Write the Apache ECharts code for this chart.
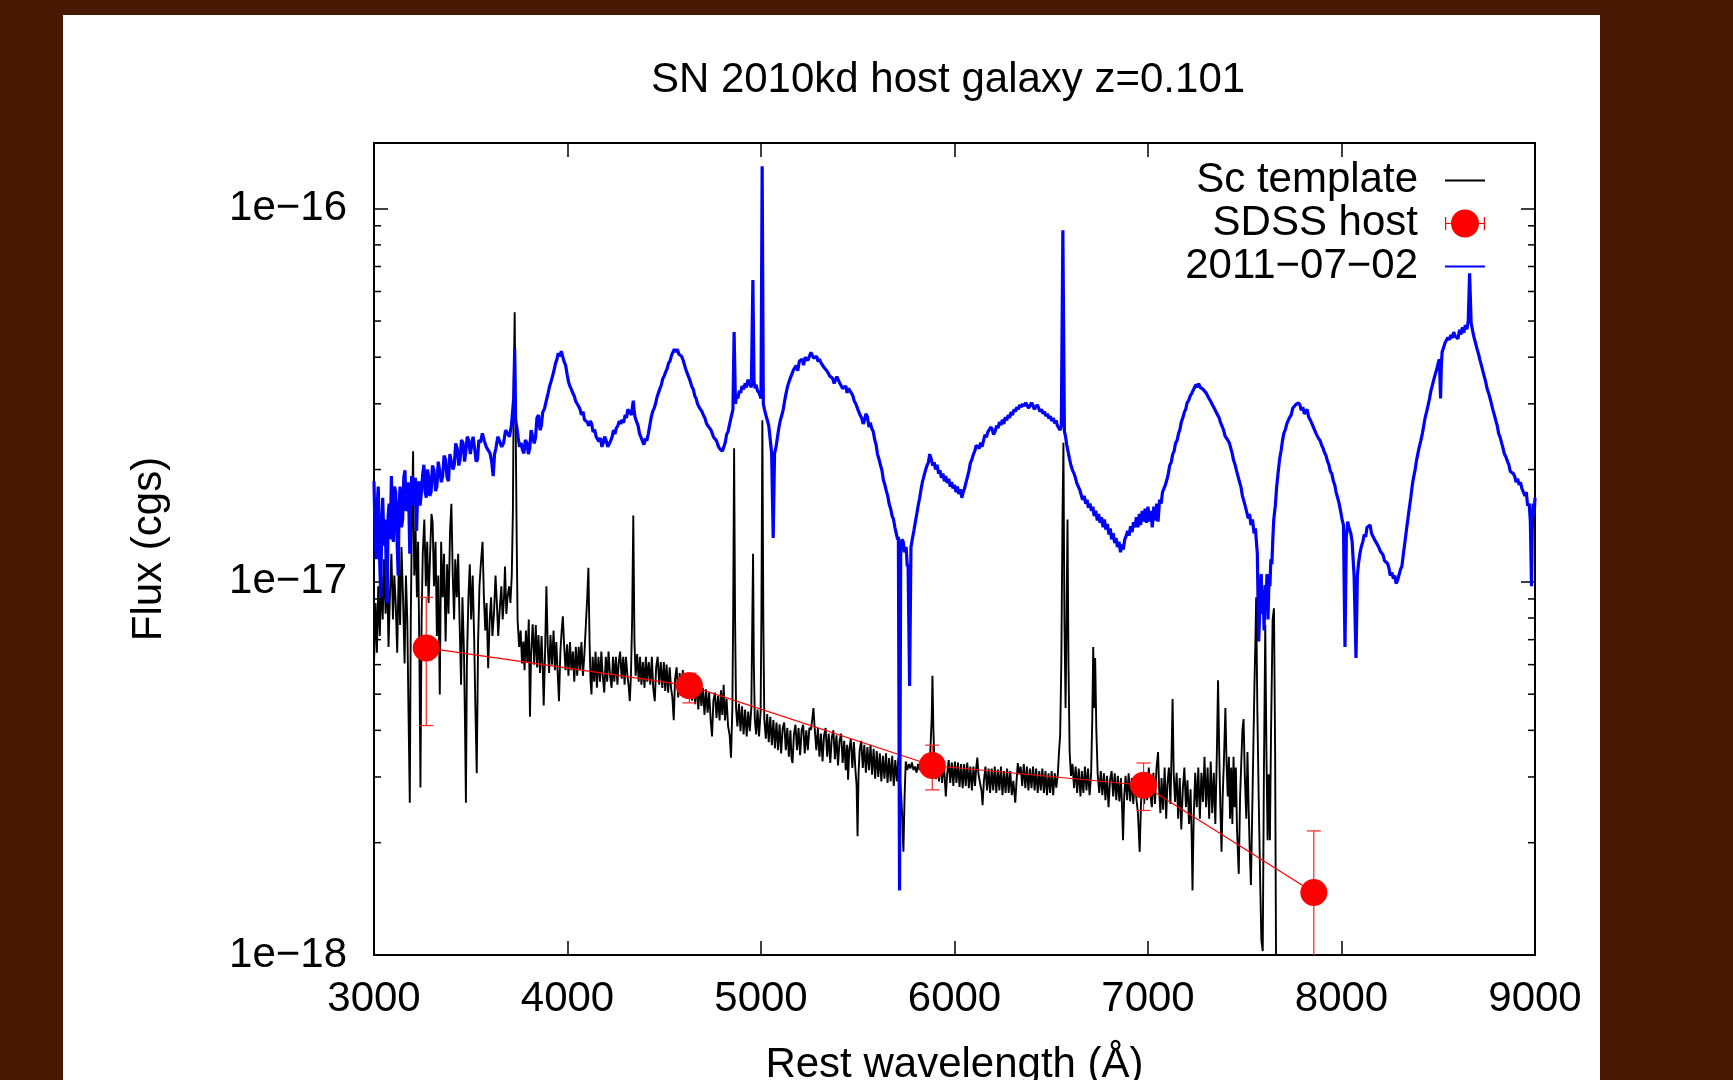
<!DOCTYPE html>
<html>
<head>
<meta charset="utf-8">
<script src="https://cdn.jsdelivr.net/npm/echarts@6/dist/echarts.min.js"></script>
<style>
html,body{margin:0;padding:0;background:#4a1903;width:1733px;height:1080px;overflow:hidden}
#panel{position:absolute;left:63px;top:15px;width:1537px;height:1065px;background:#ffffff}
#chart{position:absolute;left:0;top:0;width:1733px;height:1080px}
</style>
</head>
<body>
<div id="panel"></div>
<div id="chart"></div>
<script>
// ---------------- data (flux in units of 1e-17 erg/s/cm^2/A) ----------------
const titleText = 'SN 2010kd host galaxy z=0.101';
const xTicks = [3000, 4000, 5000, 6000, 7000, 8000, 9000];
const yTickValues = [1e-18, 1e-17, 1e-16];
const yTickLabels = ['1e\u221218', '1e\u221217', '1e\u221216'];
const yRange = [1e-18, 1.5e-16];

// Sc template [wavelength, flux]
const templateSpectrum = [[3000,0.604],[3008,0.878],[3015,0.646],[3022,0.973],[3030,0.716],[3038,1.04],[3045,0.793],[3052,1.15],[3060,0.821],[3068,1.08],[3075,0.669],[3082,0.909],[3090,1.19],[3098,0.793],[3105,1.04],[3112,0.878],[3120,0.646],[3128,1.115],[3135,0.766],[3142,1.24],[3150,0.909],[3158,0.604],[3165,1.04],[3172,0.793],[3178,0.459],[3185,0.256],[3190,0.793],[3196,1.47],[3202,2.24],[3208,1.04],[3215,1.37],[3222,0.909],[3228,1.28],[3235,0.604],[3240,0.281],[3246,0.793],[3252,1.19],[3260,1.47],[3268,0.973],[3275,1.28],[3282,0.878],[3290,1.19],[3297,1.52],[3303,1.445],[3310,0.973],[3318,1.28],[3325,0.716],[3332,1.04],[3340,0.499],[3347,1.28],[3355,0.909],[3362,1.19],[3370,0.692],[3378,1.115],[3385,0.821],[3393,1.37],[3400,1.62],[3407,1.04],[3414,0.793],[3420,1.15],[3428,0.909],[3435,1.19],[3442,0.793],[3450,0.530],[3457,0.909],[3465,0.646],[3470,0.429],[3475,0.256],[3480,0.604],[3488,0.909],[3495,1.115],[3502,0.793],[3510,1.04],[3518,0.692],[3524,0.459],[3531,0.307],[3538,0.692],[3545,0.973],[3552,1.115],[3561,1.28],[3568,0.909],[3575,0.741],[3582,0.878],[3590,0.587],[3598,0.793],[3605,0.909],[3612,0.716],[3620,0.821],[3628,1.04],[3635,0.878],[3642,0.716],[3650,0.849],[3658,0.973],[3665,0.793],[3672,0.909],[3677,1.10],[3684,0.821],[3690,0.909],[3698,0.973],[3705,0.878],[3712,1.04],[3718,1.57],[3722,3.32],[3727,5.28],[3732,2.71],[3737,1.37],[3742,0.793],[3750,0.669],[3758,0.741],[3765,0.604],[3772,0.692],[3778,0.580],[3785,0.741],[3792,0.610],[3800,0.793],[3806,0.435],[3812,0.646],[3820,0.770],[3828,0.600],[3836,0.766],[3843,0.590],[3850,0.720],[3858,0.570],[3866,0.716],[3872,0.590],[3877,0.466],[3884,0.646],[3891,0.973],[3898,0.669],[3905,0.570],[3912,0.720],[3920,0.600],[3928,0.740],[3935,0.580],[3942,0.690],[3950,0.560],[3956,0.479],[3963,0.646],[3970,0.741],[3976,0.809],[3983,0.669],[3990,0.580],[3998,0.680],[4005,0.560],[4013,0.690],[4020,0.580],[4028,0.650],[4035,0.540],[4043,0.670],[4050,0.560],[4058,0.670],[4065,0.580],[4072,0.690],[4080,0.560],[4088,0.650],[4095,0.646],[4102,0.909],[4108,1.09],[4114,0.692],[4119,0.545],[4124,0.499],[4130,0.630],[4138,0.540],[4145,0.650],[4152,0.520],[4160,0.630],[4168,0.540],[4175,0.650],[4182,0.560],[4190,0.505],[4198,0.630],[4205,0.540],[4212,0.650],[4220,0.560],[4228,0.520],[4235,0.630],[4242,0.540],[4250,0.630],[4258,0.530],[4265,0.610],[4272,0.650],[4280,0.550],[4288,0.630],[4295,0.530],[4302,0.630],[4310,0.560],[4316,0.526],[4322,0.479],[4328,0.564],[4334,0.793],[4340,1.505],[4346,0.692],[4352,0.560],[4360,0.640],[4368,0.540],[4375,0.630],[4382,0.530],[4390,0.610],[4398,0.520],[4405,0.630],[4412,0.540],[4420,0.610],[4428,0.530],[4436,0.630],[4443,0.520],[4451,0.479],[4458,0.590],[4466,0.630],[4474,0.530],[4482,0.610],[4490,0.520],[4498,0.610],[4505,0.510],[4512,0.600],[4520,0.505],[4528,0.590],[4535,0.520],[4542,0.490],[4549,0.426],[4556,0.550],[4564,0.590],[4572,0.490],[4580,0.570],[4588,0.495],[4596,0.580],[4604,0.490],[4612,0.560],[4620,0.520],[4628,0.490],[4636,0.550],[4644,0.480],[4652,0.550],[4660,0.470],[4668,0.540],[4676,0.455],[4684,0.530],[4692,0.465],[4700,0.520],[4708,0.440],[4716,0.515],[4724,0.446],[4732,0.505],[4740,0.425],[4747,0.385],[4754,0.480],[4762,0.505],[4770,0.432],[4778,0.495],[4786,0.425],[4793,0.512],[4800,0.440],[4807,0.530],[4814,0.425],[4822,0.486],[4830,0.410],[4838,0.388],[4845,0.338],[4852,0.459],[4856,0.793],[4861,2.28],[4866,0.793],[4871,0.459],[4878,0.410],[4886,0.472],[4894,0.398],[4902,0.464],[4910,0.390],[4918,0.455],[4926,0.385],[4934,0.449],[4942,0.398],[4950,0.459],[4955,0.793],[4959,1.19],[4963,0.604],[4968,0.429],[4975,0.390],[4982,0.455],[4990,0.385],[4998,0.449],[5002,0.793],[5007,2.71],[5012,0.793],[5017,0.429],[5025,0.380],[5032,0.442],[5040,0.372],[5048,0.435],[5056,0.365],[5064,0.426],[5072,0.358],[5080,0.420],[5088,0.354],[5096,0.415],[5104,0.347],[5112,0.406],[5120,0.420],[5128,0.354],[5136,0.406],[5144,0.340],[5152,0.400],[5158,0.335],[5163,0.327],[5170,0.390],[5178,0.414],[5186,0.354],[5194,0.406],[5202,0.343],[5210,0.400],[5218,0.414],[5226,0.347],[5234,0.400],[5242,0.354],[5250,0.406],[5258,0.401],[5265,0.429],[5271,0.459],[5278,0.401],[5286,0.354],[5294,0.406],[5302,0.340],[5310,0.392],[5318,0.330],[5326,0.388],[5334,0.406],[5342,0.340],[5350,0.392],[5358,0.327],[5366,0.384],[5374,0.400],[5382,0.335],[5390,0.388],[5398,0.322],[5406,0.375],[5414,0.392],[5422,0.327],[5430,0.375],[5438,0.313],[5445,0.366],[5450,0.295],[5456,0.354],[5464,0.379],[5472,0.317],[5480,0.372],[5488,0.313],[5494,0.285],[5499,0.208],[5504,0.305],[5510,0.354],[5518,0.375],[5526,0.317],[5534,0.366],[5542,0.308],[5550,0.361],[5558,0.313],[5566,0.366],[5574,0.304],[5582,0.357],[5590,0.297],[5598,0.352],[5606,0.300],[5614,0.347],[5622,0.292],[5630,0.342],[5638,0.297],[5646,0.347],[5654,0.289],[5662,0.337],[5670,0.292],[5678,0.342],[5686,0.284],[5694,0.333],[5702,0.292],[5710,0.337],[5718,0.295],[5725,0.266],[5730,0.232],[5736,0.189],[5742,0.266],[5748,0.330],[5756,0.313],[5764,0.325],[5772,0.316],[5780,0.328],[5788,0.313],[5796,0.320],[5804,0.308],[5812,0.325],[5820,0.313],[5828,0.320],[5836,0.308],[5844,0.325],[5852,0.316],[5860,0.330],[5868,0.313],[5875,0.350],[5882,0.429],[5886,0.560],[5891,0.401],[5896,0.327],[5904,0.296],[5912,0.337],[5920,0.292],[5928,0.333],[5936,0.289],[5944,0.330],[5950,0.295],[5955,0.266],[5962,0.305],[5970,0.333],[5978,0.289],[5986,0.328],[5994,0.284],[6002,0.330],[6010,0.289],[6018,0.328],[6026,0.282],[6034,0.325],[6042,0.280],[6050,0.325],[6058,0.284],[6066,0.328],[6074,0.280],[6082,0.320],[6090,0.276],[6098,0.320],[6106,0.284],[6112,0.316],[6118,0.338],[6124,0.305],[6132,0.289],[6140,0.275],[6145,0.252],[6152,0.293],[6160,0.320],[6168,0.276],[6176,0.316],[6184,0.272],[6192,0.316],[6200,0.276],[6208,0.320],[6216,0.272],[6224,0.314],[6232,0.276],[6240,0.320],[6248,0.268],[6256,0.311],[6264,0.272],[6272,0.316],[6280,0.272],[6288,0.311],[6296,0.268],[6304,0.293],[6310,0.270],[6314,0.256],[6320,0.289],[6327,0.327],[6334,0.305],[6342,0.320],[6350,0.284],[6358,0.325],[6366,0.280],[6374,0.320],[6382,0.276],[6390,0.316],[6398,0.280],[6406,0.320],[6414,0.276],[6422,0.316],[6430,0.272],[6438,0.311],[6446,0.276],[6454,0.316],[6462,0.272],[6470,0.311],[6478,0.268],[6486,0.307],[6494,0.272],[6502,0.311],[6510,0.268],[6518,0.307],[6526,0.281],[6534,0.305],[6540,0.350],[6546,0.388],[6552,0.604],[6558,1.47],[6563,2.36],[6568,0.793],[6574,0.459],[6579,0.793],[6584,1.47],[6589,0.604],[6595,0.350],[6602,0.302],[6610,0.325],[6618,0.280],[6626,0.320],[6634,0.272],[6642,0.316],[6651,0.266],[6658,0.311],[6666,0.272],[6674,0.320],[6682,0.276],[6690,0.316],[6698,0.268],[6706,0.305],[6712,0.429],[6717,0.669],[6722,0.459],[6727,0.625],[6733,0.401],[6740,0.305],[6748,0.272],[6756,0.311],[6764,0.268],[6772,0.307],[6780,0.260],[6788,0.302],[6796,0.249],[6804,0.295],[6812,0.311],[6820,0.266],[6828,0.307],[6836,0.260],[6844,0.302],[6852,0.258],[6860,0.298],[6866,0.249],[6871,0.203],[6877,0.266],[6884,0.302],[6892,0.260],[6900,0.307],[6908,0.258],[6916,0.298],[6924,0.254],[6932,0.294],[6940,0.262],[6948,0.240],[6957,0.189],[6964,0.257],[6972,0.294],[6980,0.254],[6988,0.307],[6996,0.260],[7004,0.318],[7012,0.268],[7020,0.249],[7028,0.308],[7036,0.254],[7044,0.318],[7052,0.350],[7058,0.275],[7064,0.240],[7070,0.298],[7078,0.245],[7086,0.318],[7094,0.232],[7100,0.285],[7108,0.318],[7116,0.254],[7122,0.350],[7127,0.485],[7133,0.305],[7140,0.257],[7148,0.308],[7156,0.232],[7164,0.298],[7172,0.217],[7180,0.278],[7188,0.318],[7196,0.249],[7204,0.294],[7212,0.2245],[7220,0.278],[7226,0.203],[7230,0.149],[7236,0.232],[7244,0.308],[7252,0.249],[7260,0.318],[7268,0.232],[7276,0.308],[7284,0.257],[7292,0.340],[7300,0.249],[7308,0.318],[7316,0.232],[7324,0.330],[7332,0.240],[7340,0.308],[7348,0.2245],[7356,0.350],[7362,0.545],[7368,0.350],[7374,0.249],[7380,0.189],[7386,0.266],[7392,0.327],[7400,0.459],[7406,0.327],[7412,0.266],[7418,0.340],[7424,0.232],[7430,0.318],[7436,0.2245],[7442,0.340],[7448,0.249],[7454,0.318],[7460,0.217],[7469,0.165],[7476,0.266],[7482,0.327],[7488,0.401],[7494,0.429],[7500,0.305],[7508,0.232],[7514,0.350],[7520,0.249],[7526,0.189],[7532,0.154],[7538,0.232],[7544,0.350],[7550,0.526],[7555,0.692],[7559,0.909],[7565,0.459],[7572,0.266],[7580,0.154],[7586,0.1096],[7593,0.1024],[7599,0.305],[7606,0.766],[7612,0.350],[7618,0.203],[7624,0.305],[7630,0.203],[7636,0.401],[7644,0.793],[7651,0.849],[7657,0.350],[7662,0.0897]];

// SN spectrum 2011-07-02 [wavelength, flux]
const snSpectrum = [[3000,1.86],[3006,1.30],[3012,1.15],[3017,1.62],[3022,1.80],[3028,1.20],[3035,0.909],[3040,1.45],[3045,1.68],[3052,1.25],[3058,1.47],[3063,1.10],[3068,0.878],[3073,1.50],[3078,1.62],[3084,1.30],[3090,1.92],[3095,1.45],[3100,1.28],[3106,1.80],[3112,1.74],[3118,1.35],[3125,1.04],[3130,1.62],[3135,1.80],[3142,1.40],[3148,1.47],[3154,1.90],[3160,1.99],[3166,1.55],[3172,1.57],[3178,1.85],[3185,1.19],[3190,1.70],[3195,1.92],[3202,1.60],[3208,1.62],[3214,1.90],[3220,1.37],[3226,1.75],[3232,1.86],[3238,1.60],[3245,1.74],[3252,1.95],[3258,2.06],[3264,1.75],[3270,1.68],[3276,2.00],[3282,1.92],[3288,1.70],[3295,1.74],[3302,2.05],[3310,1.99],[3318,1.75],[3325,1.80],[3332,2.10],[3340,2.09],[3348,1.85],[3355,1.92],[3362,2.18],[3370,2.13],[3378,1.90],[3385,1.86],[3392,2.20],[3400,2.21],[3408,2.00],[3415,2.06],[3422,2.35],[3430,2.28],[3438,2.05],[3445,2.13],[3452,2.40],[3460,2.36],[3468,2.10],[3475,2.24],[3482,2.45],[3490,2.39],[3498,2.20],[3505,2.33],[3512,2.45],[3520,2.28],[3528,2.10],[3535,2.13],[3542,2.40],[3550,2.36],[3560,2.50],[3570,2.39],[3580,2.30],[3590,2.28],[3600,2.21],[3608,2.10],[3616,1.92],[3623,2.20],[3630,2.28],[3640,2.45],[3650,2.44],[3660,2.30],[3670,2.36],[3680,2.55],[3690,2.53],[3700,2.45],[3710,2.62],[3722,3.10],[3727,4.22],[3732,2.71],[3738,2.60],[3745,2.44],[3752,2.30],[3760,2.36],[3768,2.25],[3775,2.21],[3782,2.40],[3790,2.36],[3798,2.20],[3805,2.28],[3812,2.55],[3820,2.53],[3828,2.35],[3835,2.44],[3842,2.75],[3850,2.80],[3858,2.55],[3865,2.62],[3872,2.85],[3880,2.90],[3890,3.05],[3900,3.21],[3908,3.35],[3915,3.44],[3922,3.55],[3930,3.68],[3938,3.85],[3945,3.94],[3952,4.10],[3960,4.02],[3968,4.15],[3975,4.02],[3982,3.90],[3990,3.81],[3998,3.60],[4005,3.44],[4012,3.35],[4020,3.28],[4028,3.20],[4035,3.15],[4042,3.05],[4050,3.00],[4058,2.95],[4065,2.90],[4072,2.80],[4080,2.86],[4088,2.72],[4095,2.75],[4102,2.68],[4110,2.62],[4118,2.70],[4125,2.65],[4132,2.52],[4140,2.56],[4148,2.45],[4155,2.48],[4162,2.38],[4170,2.43],[4178,2.30],[4185,2.36],[4192,2.45],[4200,2.39],[4208,2.30],[4215,2.28],[4222,2.38],[4230,2.44],[4238,2.55],[4245,2.49],[4252,2.58],[4260,2.62],[4268,2.70],[4275,2.65],[4282,2.72],[4290,2.67],[4298,2.80],[4305,2.75],[4312,2.90],[4320,2.86],[4330,2.80],[4340,3.06],[4345,2.85],[4350,2.75],[4358,2.68],[4365,2.62],[4372,2.50],[4380,2.44],[4388,2.38],[4395,2.33],[4402,2.42],[4410,2.39],[4418,2.50],[4425,2.62],[4432,2.75],[4440,2.86],[4448,2.92],[4455,3.00],[4462,3.12],[4470,3.21],[4478,3.30],[4485,3.37],[4492,3.50],[4500,3.56],[4508,3.66],[4515,3.73],[4522,3.85],[4530,3.91],[4538,4.05],[4545,4.02],[4552,4.20],[4560,4.13],[4568,4.20],[4575,4.08],[4582,4.12],[4590,4.02],[4598,3.92],[4605,3.81],[4612,3.70],[4620,3.61],[4628,3.52],[4635,3.44],[4642,3.34],[4650,3.28],[4658,3.15],[4665,3.10],[4672,3.00],[4680,2.94],[4688,2.92],[4695,2.86],[4702,2.80],[4710,2.75],[4718,2.66],[4725,2.62],[4732,2.60],[4740,2.56],[4748,2.50],[4755,2.44],[4762,2.42],[4770,2.39],[4778,2.32],[4785,2.28],[4792,2.26],[4800,2.24],[4808,2.30],[4815,2.36],[4822,2.48],[4830,2.53],[4838,2.65],[4845,2.75],[4855,2.90],[4861,4.67],[4868,3.00],[4874,3.15],[4880,3.10],[4888,3.25],[4895,3.21],[4902,3.35],[4910,3.28],[4918,3.40],[4925,3.32],[4932,3.48],[4940,3.44],[4950,3.32],[4958,6.44],[4964,3.44],[4970,3.30],[4975,3.37],[4982,3.25],[4990,3.21],[5000,3.10],[5006,13.0],[5012,3.00],[5018,2.90],[5025,2.80],[5032,2.72],[5040,2.62],[5048,2.40],[5055,2.21],[5063,1.31],[5070,2.21],[5078,2.30],[5085,2.44],[5092,2.58],[5100,2.71],[5108,2.80],[5115,2.90],[5122,3.05],[5130,3.21],[5138,3.35],[5145,3.44],[5152,3.52],[5160,3.61],[5168,3.70],[5175,3.73],[5182,3.80],[5190,3.68],[5198,3.90],[5205,3.86],[5212,3.95],[5220,3.81],[5228,4.00],[5235,4.02],[5242,3.92],[5250,3.94],[5258,4.12],[5265,4.08],[5272,3.98],[5280,3.94],[5288,4.02],[5295,3.89],[5302,3.95],[5310,3.86],[5318,3.90],[5325,3.76],[5332,3.80],[5340,3.68],[5348,3.62],[5355,3.56],[5362,3.60],[5370,3.51],[5378,3.40],[5385,3.44],[5392,3.55],[5400,3.51],[5408,3.40],[5415,3.37],[5422,3.30],[5430,3.28],[5438,3.35],[5445,3.21],[5452,3.30],[5460,3.32],[5468,3.20],[5475,3.15],[5482,3.05],[5490,3.00],[5498,2.92],[5505,2.86],[5512,2.80],[5520,2.75],[5528,2.65],[5535,2.71],[5542,2.82],[5550,2.77],[5558,2.60],[5565,2.67],[5572,2.58],[5580,2.53],[5588,2.40],[5595,2.33],[5602,2.20],[5610,2.13],[5618,2.05],[5625,1.99],[5632,1.88],[5640,1.82],[5648,1.75],[5655,1.70],[5662,1.62],[5670,1.57],[5678,1.50],[5685,1.47],[5692,1.40],[5700,1.39],[5706,1.30],[5710,1.32],[5716,0.149],[5722,1.19],[5728,1.30],[5735,1.28],[5742,1.20],[5750,1.24],[5756,1.10],[5760,1.115],[5768,0.526],[5775,1.24],[5782,1.30],[5790,1.37],[5798,1.45],[5805,1.52],[5812,1.60],[5820,1.68],[5828,1.78],[5835,1.86],[5842,1.92],[5850,1.99],[5858,2.05],[5865,2.09],[5872,2.20],[5880,2.13],[5888,2.05],[5895,2.09],[5902,2.00],[5910,2.06],[5918,1.95],[5925,1.99],[5932,1.90],[5940,1.95],[5948,1.86],[5955,1.92],[5962,1.84],[5970,1.89],[5978,1.80],[5985,1.85],[5992,1.78],[6000,1.82],[6008,1.74],[6015,1.80],[6022,1.72],[6030,1.77],[6038,1.68],[6045,1.74],[6052,1.78],[6060,1.85],[6068,1.92],[6075,1.99],[6082,2.08],[6090,2.13],[6098,2.20],[6105,2.24],[6112,2.32],[6120,2.30],[6128,2.28],[6135,2.36],[6142,2.30],[6150,2.39],[6158,2.48],[6165,2.44],[6172,2.52],[6180,2.49],[6188,2.60],[6195,2.56],[6202,2.48],[6210,2.53],[6218,2.62],[6225,2.58],[6232,2.68],[6240,2.63],[6248,2.72],[6255,2.65],[6262,2.76],[6270,2.71],[6278,2.80],[6285,2.75],[6292,2.85],[6300,2.80],[6308,2.90],[6315,2.86],[6322,2.94],[6330,2.90],[6338,2.98],[6345,2.94],[6352,3.00],[6360,2.96],[6368,3.02],[6375,2.98],[6382,2.92],[6390,2.96],[6398,3.02],[6405,2.98],[6412,2.90],[6420,2.94],[6428,2.98],[6435,2.92],[6442,2.86],[6450,2.90],[6458,2.82],[6465,2.86],[6472,2.78],[6480,2.82],[6488,2.74],[6495,2.78],[6502,2.70],[6510,2.75],[6518,2.66],[6525,2.71],[6532,2.62],[6540,2.65],[6546,2.55],[6552,2.62],[6560,8.75],[6568,2.53],[6574,2.45],[6580,2.33],[6588,2.22],[6595,2.13],[6602,2.05],[6610,1.99],[6618,1.95],[6625,1.90],[6632,1.84],[6640,1.80],[6648,1.76],[6655,1.74],[6662,1.66],[6670,1.70],[6678,1.62],[6685,1.66],[6692,1.58],[6700,1.62],[6708,1.55],[6715,1.59],[6722,1.50],[6730,1.55],[6738,1.46],[6745,1.52],[6752,1.44],[6760,1.49],[6768,1.40],[6775,1.47],[6782,1.38],[6790,1.43],[6798,1.34],[6805,1.39],[6812,1.30],[6820,1.35],[6828,1.27],[6835,1.31],[6842,1.24],[6850,1.28],[6858,1.20],[6865,1.26],[6872,1.22],[6880,1.30],[6888,1.33],[6895,1.37],[6902,1.33],[6910,1.41],[6918,1.36],[6925,1.445],[6932,1.40],[6940,1.49],[6948,1.40],[6955,1.52],[6962,1.42],[6970,1.55],[6978,1.45],[6985,1.57],[6992,1.44],[7000,1.59],[7008,1.45],[7015,1.55],[7022,1.40],[7030,1.59],[7038,1.46],[7045,1.62],[7052,1.45],[7060,1.66],[7068,1.62],[7075,1.74],[7082,1.75],[7090,1.82],[7098,1.88],[7105,1.95],[7112,2.05],[7120,2.09],[7128,2.20],[7135,2.24],[7142,2.35],[7150,2.39],[7158,2.50],[7165,2.56],[7172,2.68],[7180,2.75],[7188,2.85],[7195,2.90],[7202,3.02],[7210,3.06],[7218,3.15],[7225,3.19],[7232,3.25],[7240,3.28],[7248,3.38],[7255,3.32],[7262,3.40],[7270,3.32],[7278,3.36],[7285,3.28],[7292,3.30],[7300,3.21],[7308,3.18],[7315,3.10],[7322,3.06],[7330,3.00],[7338,2.98],[7345,2.90],[7352,2.85],[7360,2.80],[7368,2.75],[7375,2.67],[7382,2.62],[7390,2.56],[7398,2.46],[7405,2.48],[7412,2.40],[7420,2.36],[7428,2.28],[7435,2.21],[7442,2.12],[7450,2.06],[7458,1.98],[7465,1.92],[7472,1.86],[7480,1.80],[7488,1.70],[7495,1.68],[7502,1.60],[7510,1.59],[7518,1.48],[7525,1.52],[7532,1.42],[7540,1.47],[7548,1.35],[7555,1.39],[7565,1.19],[7572,0.692],[7580,0.909],[7585,1.05],[7590,0.821],[7595,0.95],[7600,0.741],[7605,0.98],[7610,0.878],[7615,1.05],[7620,0.793],[7625,1.00],[7630,0.973],[7635,1.15],[7640,1.115],[7645,1.30],[7650,1.47],[7658,1.60],[7665,1.80],[7672,1.95],[7680,2.13],[7688,2.25],[7695,2.39],[7702,2.50],[7710,2.56],[7718,2.66],[7725,2.71],[7732,2.76],[7740,2.80],[7748,2.92],[7755,2.90],[7762,2.98],[7770,2.96],[7778,3.02],[7785,2.98],[7792,2.88],[7800,2.94],[7808,2.82],[7815,2.86],[7822,2.90],[7830,2.77],[7838,2.72],[7845,2.67],[7852,2.62],[7860,2.56],[7868,2.50],[7875,2.48],[7882,2.42],[7890,2.39],[7898,2.32],[7905,2.28],[7912,2.22],[7920,2.18],[7928,2.10],[7935,2.06],[7942,1.98],[7950,1.95],[7958,1.86],[7965,1.82],[7972,1.74],[7980,1.68],[7988,1.62],[7995,1.55],[8002,1.48],[8010,1.42],[8018,0.669],[8025,1.32],[8032,1.45],[8040,1.39],[8048,1.35],[8055,1.28],[8060,1.15],[8065,1.04],[8075,0.625],[8082,1.04],[8088,1.12],[8095,1.19],[8102,1.24],[8110,1.28],[8118,1.34],[8125,1.32],[8132,1.40],[8140,1.39],[8148,1.42],[8155,1.35],[8162,1.36],[8170,1.30],[8178,1.31],[8185,1.26],[8192,1.24],[8200,1.21],[8208,1.22],[8215,1.18],[8222,1.14],[8230,1.13],[8238,1.12],[8245,1.09],[8252,1.04],[8260,1.06],[8268,1.02],[8275,1.04],[8282,0.99],[8290,1.01],[8298,1.00],[8305,1.08],[8312,1.10],[8320,1.19],[8328,1.28],[8335,1.37],[8342,1.46],[8350,1.57],[8358,1.68],[8365,1.80],[8372,1.90],[8380,1.99],[8388,2.12],[8395,2.21],[8402,2.30],[8410,2.39],[8418,2.50],[8425,2.62],[8432,2.75],[8440,2.86],[8448,2.98],[8455,3.10],[8462,3.25],[8470,3.37],[8478,3.50],[8485,3.61],[8492,3.70],[8500,3.86],[8506,3.95],[8512,3.10],[8516,3.80],[8520,4.13],[8528,4.25],[8535,4.37],[8542,4.40],[8550,4.52],[8558,4.45],[8565,4.59],[8572,4.50],[8580,4.67],[8588,4.55],[8595,4.60],[8602,4.48],[8610,4.74],[8618,4.60],[8625,4.81],[8632,4.65],[8640,4.88],[8648,4.75],[8655,5.00],[8662,6.71],[8670,4.94],[8678,4.70],[8685,4.52],[8692,4.38],[8700,4.22],[8708,4.08],[8715,3.94],[8722,3.82],[8730,3.68],[8738,3.55],[8745,3.44],[8752,3.30],[8760,3.21],[8768,3.10],[8775,3.00],[8782,2.90],[8790,2.80],[8798,2.70],[8805,2.62],[8812,2.50],[8820,2.44],[8828,2.35],[8835,2.28],[8842,2.20],[8850,2.16],[8858,2.10],[8865,2.06],[8872,1.98],[8880,1.99],[8888,1.95],[8895,1.92],[8902,1.85],[8910,1.89],[8918,1.82],[8925,1.85],[8932,1.78],[8940,1.80],[8948,1.70],[8955,1.74],[8962,1.60],[8970,1.62],[8976,1.45],[8982,0.973],[8986,1.40],[8990,1.62],[8995,1.50],[9000,1.68]];

// SDSS host photometry
const hostWave = [3270, 4630, 5885, 6977, 7857];
const hostFlux = [0.665, 0.527, 0.322, 0.285, 0.147];
const hostErrHigh = [0.909, 0.569, 0.365, 0.327, 0.215];
const hostErrLow = [0.412, 0.474, 0.277, 0.244, 0.080];

// ---------------- chart ----------------
const FONT = '"Liberation Sans", Arial, Helvetica, sans-serif';
const UNIT = 1e-17;
const lg = v => Math.log10(v);
const toLog = f => Math.log10(f * UNIT);
const yMin = lg(yRange[0]);
const yMax = lg(yRange[1]);
const xMin = xTicks[0], xMax = xTicks[xTicks.length - 1];

const templateData = templateSpectrum.map(p => [p[0], toLog(p[1])]);
const snData = snSpectrum.map(p => [p[0], toLog(p[1])]);
const hostData = hostWave.map((w, i) => [w, toLog(hostFlux[i])]);
const hostErrData = hostWave.map((w, i) => [w, toLog(hostErrLow[i]), toLog(hostErrHigh[i])]);

// minor log ticks (2..9 x each decade) inside the range
const minorTicks = [];
yTickValues.forEach(d => { for (let k = 2; k <= 9; k++) { const v = lg(k * d); if (v < yMax) minorTicks.push([xMin, v]); } });

const nameSc = 'Sc template', nameHost = 'SDSS host', nameSn = '2011\u221207\u221202';
const LINE_ICON = 'path://M0,0L0,0ZM22,14L62,14L62,16L22,16ZM62,30L62,30Z';
const HOST_ICON = 'path://M0,0L0,0ZM56,15A14,14,0,1,1,28,15A14,14,0,1,1,56,15ZM22,14.4L62,14.4L62,15.6L22,15.6ZM22,8.5L23.2,8.5L23.2,21.5L22,21.5ZM60.8,8.5L62,8.5L62,21.5L60.8,21.5ZM62,30L62,30Z';

const tickStyle = { color: '#000', width: 1.5 };
const chart = echarts.init(document.getElementById('chart'), null, { renderer: 'canvas' });
chart.setOption({
  animation: false,
  backgroundColor: 'transparent',
  textStyle: { fontFamily: FONT },
  title: {
    text: titleText, left: 948, top: 59, padding: 0, textAlign: 'center',
    textStyle: { fontFamily: FONT, fontSize: 42, fontWeight: 'normal', color: '#000', lineHeight: 42 }
  },
  legend: {
    orient: 'vertical', align: 'right', right: 248, top: 159, padding: 0,
    itemWidth: 62, itemHeight: 30, itemGap: 0, selectedMode: false,
    textStyle: { fontFamily: FONT, fontSize: 42, color: '#000', lineHeight: 43 },
    data: [
      { name: nameSc, icon: LINE_ICON, itemStyle: { color: '#000000', borderWidth: 0 } },
      { name: nameHost, icon: HOST_ICON, itemStyle: { color: '#ff0000', borderWidth: 0 } },
      { name: nameSn, icon: LINE_ICON, itemStyle: { color: '#0000ff', borderWidth: 0 } }
    ]
  },
  grid: { left: 374, top: 143, width: 1161, height: 812, containLabel: false, outerBoundsMode: 'none', show: true, borderColor: '#000', borderWidth: 2, backgroundColor: 'transparent' },
  xAxis: [
    {
      type: 'value', position: 'bottom', min: xMin, max: xMax, interval: 1000,
      axisLine: { show: false }, splitLine: { show: false },
      axisTick: { inside: true, length: 14, lineStyle: tickStyle },
      axisLabel: { fontFamily: FONT, fontSize: 42, color: '#000', margin: 23, formatter: v => String(v) },
      name: 'Rest wavelength (\u00c5)', nameLocation: 'middle', nameGap: 89,
      nameTextStyle: { fontFamily: FONT, fontSize: 42, color: '#000', lineHeight: 42 }
    },
    {
      type: 'value', position: 'top', min: xMin, max: xMax, interval: 1000,
      axisLine: { show: false }, splitLine: { show: false },
      axisTick: { inside: true, length: 14, lineStyle: tickStyle },
      axisLabel: { show: false }
    }
  ],
  yAxis: [
    {
      type: 'value', position: 'left', min: yMin, max: yMax, interval: 1,
      axisLine: { show: false }, splitLine: { show: false },
      axisTick: { inside: true, length: 14, lineStyle: tickStyle },
      axisLabel: {
        fontFamily: FONT, fontSize: 42, color: '#000', margin: 27, showMaxLabel: false,
        formatter: v => { const i = yTickValues.findIndex(t => Math.abs(lg(t) - v) < 1e-6); return i >= 0 ? yTickLabels[i] : ''; }
      },
      name: 'Flux (cgs)', nameLocation: 'middle', nameGap: 204, nameRotate: 90,
      nameTextStyle: { fontFamily: FONT, fontSize: 42, color: '#000', lineHeight: 42 }
    },
    {
      type: 'value', position: 'right', min: yMin, max: yMax, interval: 1,
      axisLine: { show: false }, splitLine: { show: false },
      axisTick: { inside: true, length: 14, lineStyle: tickStyle },
      axisLabel: { show: false }
    }
  ],
  tooltip: { show: false },
  series: [
    {
      type: 'custom', name: 'minor ticks', silent: true, clip: false, z: 1,
      data: minorTicks, encode: { x: 0, y: 1 },
      renderItem: (params, api) => {
        const v = api.value(1);
        const l = api.coord([xMin, v]);
        const r = api.coord([xMax, v]);
        return { type: 'group', children: [
          { type: 'line', shape: { x1: l[0], y1: l[1], x2: l[0] + 7, y2: l[1] }, style: { stroke: '#000', lineWidth: 1.5 } },
          { type: 'line', shape: { x1: r[0] - 7, y1: r[1], x2: r[0], y2: r[1] }, style: { stroke: '#000', lineWidth: 1.5 } }
        ] };
      }
    },
    {
      name: nameSc, type: 'line', data: templateData, symbol: 'none', showSymbol: false,
      lineStyle: { color: '#000000', width: 1.9 }, itemStyle: { color: '#000000' }, clip: true, z: 2, silent: true
    },
    {
      type: 'custom', name: 'host errors', silent: true, clip: true, z: 3,
      data: hostErrData, encode: { x: 0, y: [1, 2] },
      renderItem: (params, api) => {
        const w = api.value(0);
        const lo = api.coord([w, api.value(1)]);
        const hi = api.coord([w, api.value(2)]);
        const st = { stroke: '#ff2020', lineWidth: 1.2 };
        return { type: 'group', children: [
          { type: 'line', shape: { x1: lo[0], y1: lo[1], x2: hi[0], y2: hi[1] }, style: st },
          { type: 'line', shape: { x1: lo[0] - 7, y1: lo[1], x2: lo[0] + 7, y2: lo[1] }, style: st },
          { type: 'line', shape: { x1: hi[0] - 7, y1: hi[1], x2: hi[0] + 7, y2: hi[1] }, style: st }
        ] };
      }
    },
    {
      name: nameHost, type: 'line', data: hostData, symbol: 'circle', symbolSize: 27, showSymbol: true,
      itemStyle: { color: '#ff0000', borderWidth: 0 }, lineStyle: { color: '#ff0000', width: 1.2 }, z: 4, silent: true
    },
    {
      name: nameSn, type: 'line', data: snData, symbol: 'none', showSymbol: false,
      lineStyle: { color: '#0000ff', width: 3.2 }, itemStyle: { color: '#0000ff' }, clip: true, z: 5, silent: true
    }
  ]
});
</script>
</body>
</html>
